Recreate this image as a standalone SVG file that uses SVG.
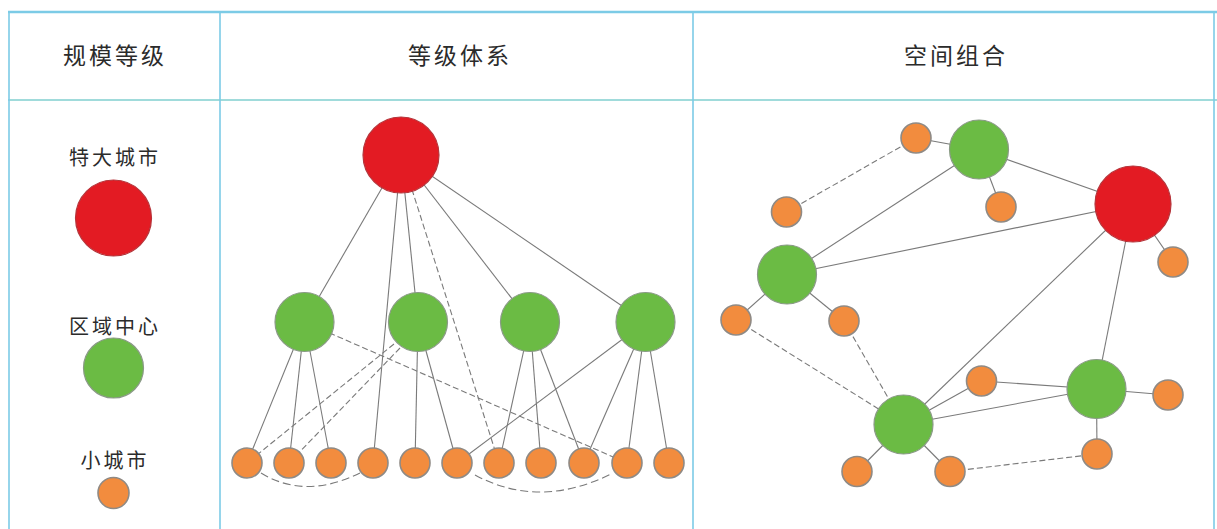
<svg xmlns="http://www.w3.org/2000/svg" width="1217" height="529" viewBox="0 0 1217 529">
<style>
.grid{stroke:#7ccbe6;stroke-width:1.6;fill:none}
.hdr{font-family:"Noto Sans CJK SC","Noto Sans",sans-serif;font-size:23px;fill:#2b2b2b;text-anchor:middle;letter-spacing:3px}
.lbl{font-family:"Noto Sans CJK SC","Noto Sans",sans-serif;font-size:20px;fill:#2b2b2b;text-anchor:middle;letter-spacing:3px}
.big{fill:#e31b23;stroke:#b5343a;stroke-width:1.2}
.mid{fill:#6bbb44;stroke:#8a9a86;stroke-width:1.2}
.sm{fill:#f28c3e;stroke:#8f8a85;stroke-width:1.6}
.ln{stroke:#7a7a7a;stroke-width:1.1;fill:none}
.ds{stroke:#7a7a7a;stroke-width:1.1;fill:none;stroke-dasharray:6 3}
</style>
<rect width="1217" height="529" fill="#ffffff"/>
<g id="table">
<line class="grid" x1="8" y1="12" x2="1217" y2="12" stroke-width="2.6" style="stroke-width:2.6"/>
<line class="grid" x1="8" y1="100" x2="1217" y2="100" style="stroke:#80cfcf"/>
<line class="grid" x1="9" y1="12" x2="9" y2="529"/>
<line class="grid" x1="220" y1="12" x2="220" y2="529"/>
<line class="grid" x1="693" y1="12" x2="693" y2="529"/>
<line class="grid" x1="1214" y1="12" x2="1214" y2="529"/>
</g>
<g id="headers">
<text class="hdr" x="115" y="63.5">规模等级</text>
<text class="hdr" x="460" y="63.5">等级体系</text>
<text class="hdr" x="956" y="63.5">空间组合</text>
</g>
<g id="legend">
<g id="legend-mega"><text class="lbl" x="115" y="164.5">特大城市</text><circle class="big" cx="113.5" cy="218" r="38"/></g>
<g id="legend-regional"><text class="lbl" x="115" y="333.5">区域中心</text><circle class="mid" cx="113.5" cy="368" r="30"/></g>
<g id="legend-small"><text class="lbl" x="115" y="467.5">小城市</text><circle class="sm" cx="113.5" cy="493" r="15.5"/></g>
</g>
<g id="connectors">
<!-- hierarchy -->
<line class="ln" x1="401" y1="155" x2="304.5" y2="322"/>
<line class="ln" x1="401" y1="155" x2="373" y2="463"/>
<line class="ln" x1="401" y1="155" x2="418" y2="322"/>
<line class="ds" x1="401" y1="155" x2="499" y2="463"/>
<line class="ln" x1="401" y1="155" x2="530" y2="322"/>
<line class="ln" x1="401" y1="155" x2="645.5" y2="322"/>
<line class="ln" x1="304.5" y1="322" x2="247" y2="463"/>
<line class="ln" x1="304.5" y1="322" x2="289" y2="463"/>
<line class="ln" x1="304.5" y1="322" x2="331" y2="463"/>
<line class="ds" x1="304.5" y1="322" x2="627" y2="463"/>
<line class="ln" x1="418" y1="322" x2="415" y2="463"/>
<line class="ln" x1="418" y1="322" x2="457" y2="463"/>
<line class="ds" x1="394" y1="344" x2="247" y2="463"/>
<line class="ds" x1="400" y1="348" x2="289" y2="463"/>
<line class="ln" x1="530" y1="322" x2="499" y2="463"/>
<line class="ln" x1="530" y1="322" x2="541" y2="463"/>
<line class="ln" x1="530" y1="322" x2="584" y2="463"/>
<line class="ln" x1="645.5" y1="322" x2="584" y2="463"/>
<line class="ln" x1="645.5" y1="322" x2="627" y2="463"/>
<line class="ln" x1="645.5" y1="322" x2="669" y2="463"/>
<line class="ln" x1="645.5" y1="322" x2="457" y2="463"/>
<path class="ds" d="M261,473 Q305,500 360,473" style="stroke-dasharray:8 4"/>
<path class="ds" d="M475,475 Q540,510 613,473" style="stroke-dasharray:8 4"/>
<!-- spatial -->
<line class="ln" x1="979" y1="149.5" x2="916" y2="138"/>
<line class="ds" x1="916" y1="138" x2="786.5" y2="212"/>
<line class="ln" x1="979" y1="149.5" x2="1001" y2="207"/>
<line class="ln" x1="979" y1="149.5" x2="1133" y2="204"/>
<line class="ln" x1="979" y1="149.5" x2="787" y2="274.5"/>
<line class="ln" x1="787" y1="274.5" x2="1133" y2="204"/>
<line class="ln" x1="787" y1="274.5" x2="736" y2="320"/>
<line class="ln" x1="787" y1="274.5" x2="844" y2="321"/>
<line class="ln" x1="1133" y1="204" x2="1173" y2="262"/>
<line class="ln" x1="1133" y1="204" x2="903.5" y2="424.5"/>
<line class="ln" x1="1133" y1="204" x2="1096.5" y2="389"/>
<line class="ds" x1="736" y1="320" x2="903.5" y2="424.5"/>
<line class="ds" x1="844" y1="321" x2="903.5" y2="424.5"/>
<line class="ln" x1="903.5" y1="424.5" x2="981.5" y2="381"/>
<line class="ln" x1="981.5" y1="381" x2="1096.5" y2="389"/>
<line class="ln" x1="903.5" y1="424.5" x2="1096.5" y2="389"/>
<line class="ln" x1="1096.5" y1="389" x2="1168" y2="395"/>
<line class="ln" x1="1096.5" y1="389" x2="1097" y2="454"/>
<line class="ln" x1="903.5" y1="424.5" x2="857" y2="471.5"/>
<line class="ln" x1="903.5" y1="424.5" x2="950" y2="471.5"/>
<line class="ds" x1="950" y1="471.5" x2="1097" y2="454"/>
</g>
<g id="hierarchy-nodes">
<g id="h-mega"><circle class="big" cx="401" cy="155" r="38"/></g>
<g id="h-r1"><circle class="mid" cx="304.5" cy="322" r="29.5"/></g>
<g id="h-r2"><circle class="mid" cx="418" cy="322" r="29.5"/></g>
<g id="h-r3"><circle class="mid" cx="530" cy="322" r="29.5"/></g>
<g id="h-r4"><circle class="mid" cx="645.5" cy="322" r="29.5"/></g>
<g id="h-s1"><circle class="sm" cx="247" cy="463" r="15"/></g>
<g id="h-s2"><circle class="sm" cx="289" cy="463" r="15"/></g>
<g id="h-s3"><circle class="sm" cx="331" cy="463" r="15"/></g>
<g id="h-s4"><circle class="sm" cx="373" cy="463" r="15"/></g>
<g id="h-s5"><circle class="sm" cx="415" cy="463" r="15"/></g>
<g id="h-s6"><circle class="sm" cx="457" cy="463" r="15"/></g>
<g id="h-s7"><circle class="sm" cx="499" cy="463" r="15"/></g>
<g id="h-s8"><circle class="sm" cx="541" cy="463" r="15"/></g>
<g id="h-s9"><circle class="sm" cx="584" cy="463" r="15"/></g>
<g id="h-s10"><circle class="sm" cx="627" cy="463" r="15"/></g>
<g id="h-s11"><circle class="sm" cx="669" cy="463" r="15"/></g>
</g>
<g id="spatial-nodes">
<g id="s-mega"><circle class="big" cx="1133" cy="204" r="38"/></g>
<g id="s-ra"><circle class="mid" cx="979" cy="149.5" r="29.5"/></g>
<g id="s-rb"><circle class="mid" cx="787" cy="274.5" r="29.5"/></g>
<g id="s-rc"><circle class="mid" cx="903.5" cy="424.5" r="29.5"/></g>
<g id="s-rd"><circle class="mid" cx="1096.5" cy="389" r="29.5"/></g>
<g id="s-o1"><circle class="sm" cx="916" cy="138" r="15"/></g>
<g id="s-o2"><circle class="sm" cx="1001" cy="207" r="15"/></g>
<g id="s-o3"><circle class="sm" cx="786.5" cy="212" r="15"/></g>
<g id="s-o4"><circle class="sm" cx="1173" cy="262" r="15"/></g>
<g id="s-o5"><circle class="sm" cx="736" cy="320" r="15"/></g>
<g id="s-o6"><circle class="sm" cx="844" cy="321" r="15"/></g>
<g id="s-o7"><circle class="sm" cx="981.5" cy="381" r="15"/></g>
<g id="s-o8"><circle class="sm" cx="1168" cy="395" r="15"/></g>
<g id="s-o9"><circle class="sm" cx="1097" cy="454" r="15"/></g>
<g id="s-o10"><circle class="sm" cx="857" cy="471.5" r="15"/></g>
<g id="s-o11"><circle class="sm" cx="950" cy="471.5" r="15"/></g>
</g>
</svg>
